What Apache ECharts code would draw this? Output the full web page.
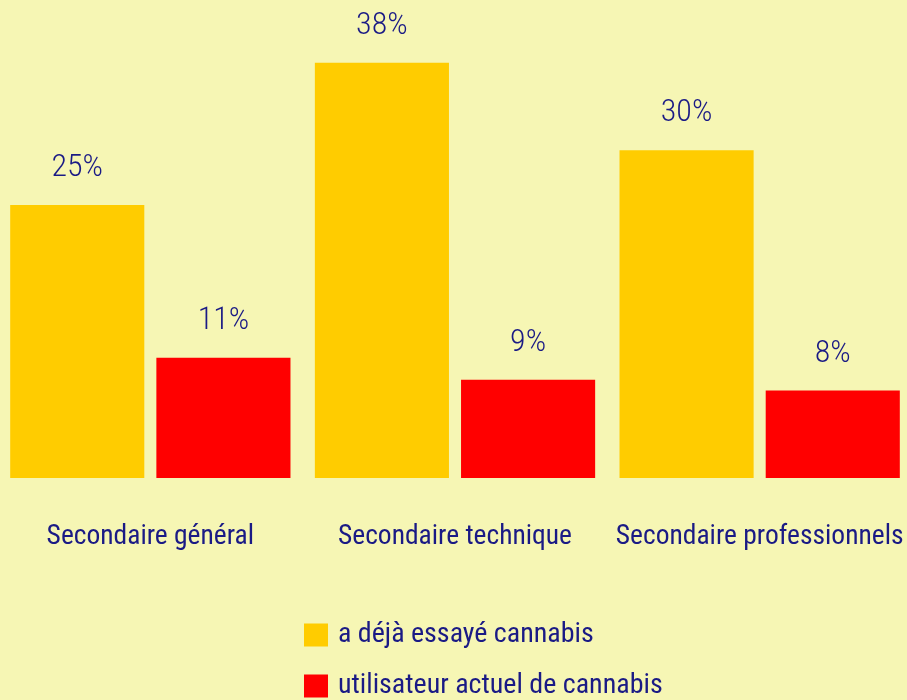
<!DOCTYPE html>
<html>
<head>
<meta charset="utf-8">
<script src="https://cdn.jsdelivr.net/npm/echarts@6/dist/echarts.min.js"></script>
<style>
  html, body { margin: 0; padding: 0; background: #f6f6b4; }
  #main { width: 907px; height: 700px; }
</style>
</head>
<body>
<div id="main"></div>
<script>
var categories = ['Secondaire général', 'Secondaire technique', 'Secondaire professionnels'];
var seriesNames = ['a déjà essayé cannabis', 'utilisateur actuel de cannabis'];
var essaye = [25, 38, 30];
var actuel = [11, 9, 8];

var fontFam = '"Roboto Condensed", "Open Sans", sans-serif';
var navy = '#1a1a85';

var chart = echarts.init(document.getElementById('main'));

//une légende par ligne, l'une sous l'autre
function legendRow(name, top) {
    return {
        left: 304,
        top: top,
        padding: 0,
        itemWidth: 24,
        itemHeight: 23,
        icon: 'rect',
        data: [name],
        textStyle: {
            color: navy,
            fontSize: 28,
            fontFamily: fontFam,
            padding: [0, 0, 0, 5]
        }
    };
}

var valueLabel = {
    show: true,
    position: 'top',
    distance: 21,
    color: navy,
    fontSize: 32,
    fontWeight: 300,
    fontFamily: fontFam,
    formatter: '{c}%'
};

var option = {
    backgroundColor: '#f6f6b4',
    textStyle: { fontFamily: fontFam },
    grid: {
        left: -2,
        width: 914,
        top: 41,
        bottom: 222,
        outerBoundsMode: 'none',
        containLabel: false
    },
    legend: [
        legendRow(seriesNames[0], 621),
        legendRow(seriesNames[1], 672)
    ],
    xAxis: {
        type: 'category',
        data: categories,
        axisLine: { show: false },
        axisTick: { show: false },
        axisLabel: {
            color: navy,
            fontSize: 27.5,
            fontFamily: fontFam,
            margin: 45,
            interval: 0
        }
    },
    yAxis: {
        type: 'value',
        min: 0,
        max: 40,
        show: false,
        splitLine: { show: false }
    },
    series: [
        {
            name: seriesNames[0],
            type: 'bar',
            data: essaye,
            barGap: '9%',
            barCategoryGap: '8%',
            itemStyle: { color: '#ffcc00' },
            label: valueLabel
        },
        {
            name: seriesNames[1],
            type: 'bar',
            data: actuel,
            barGap: '9%',
            barCategoryGap: '8%',
            itemStyle: { color: '#ff0000' },
            label: valueLabel
        }
    ]
};
chart.setOption(option);
</script>
</body>
</html>
